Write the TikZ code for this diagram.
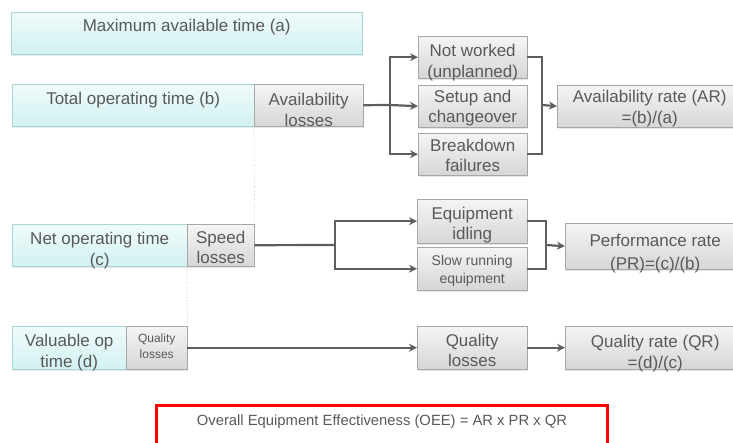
\documentclass[tikz,border=0pt]{standalone}
\usepackage{fontspec}
\setmainfont{Liberation Sans}
\usetikzlibrary{arrows.meta,shadows}

\definecolor{txtgray}{HTML}{595959}
\definecolor{linegray}{HTML}{5E5E5E}
\definecolor{cyantop}{HTML}{F0FBFB}
\definecolor{cyanbot}{HTML}{D2F1F1}
\definecolor{cyanedge}{HTML}{A8D7D7}
\definecolor{graytop}{HTML}{F5F5F5}
\definecolor{graybot}{HTML}{D6D6D6}
\definecolor{grayedge}{HTML}{A6A6A6}

\tikzset{
  basebox/.style={draw, anchor=north west, inner sep=0pt, align=center,
    minimum height=42pt, text=txtgray,
    font=\fontsize{17}{20.5}\selectfont,
    drop shadow={opacity=0.18, shadow xshift=1pt, shadow yshift=-1.5pt}},
  timebox/.style={basebox, draw=cyanedge, top color=cyantop, bottom color=cyanbot},
  lossbox/.style={basebox, draw=grayedge, top color=graytop, bottom color=graybot},
  % fixed text boxes, so that the lines sit where they should in each box
  oneline/.style={text height=12pt, text depth=#1},
  twoline/.style={text height=#1, text depth=0pt},
  smalltext/.style={font=\fontsize{14}{17.5}\selectfont},
  tinytext/.style={font=\fontsize{12}{15.5}\selectfont},
  link/.style={draw=linegray, line width=2.2pt},
  arr/.style={link, -{Stealth[length=8pt,width=8pt,inset=2.5pt]}},
  guide/.style={draw=grayedge, line width=0.6pt, dotted},
}

\begin{document}
\begin{tikzpicture}[x=1pt, y=-1pt]
\useasboundingbox (0,0) rectangle (733,442);

% time levels and their losses
\node[timebox, oneline=16pt, minimum width=351pt] (maxt) at (11,12) {Maximum available time (a)};
\node[timebox, oneline=14pt, minimum width=242pt] (tot) at (12,84) {Total operating time (b)};
\node[lossbox, twoline=42pt, minimum width=109pt] (avl) at (254,84) {Availability\\losses};
\node[timebox, twoline=40pt, minimum width=175pt] (net) at (12,224) {Net operating time\\(c)};
\node[lossbox, twoline=37pt, minimum width=67pt] (spd) at (187,224) {Speed\\losses};
\node[timebox, twoline=39pt, minimum width=114pt, minimum height=43pt] (val) at (12,326) {Valuable op\\time (d)};
\node[lossbox, tinytext, twoline=21pt, minimum width=61pt, minimum height=43pt] (qlt) at (126,326) {Quality\\losses};

\draw[guide] (avl.south west) -- (spd.north east);
\draw[guide] (spd.south west) -- (qlt.north east);

% availability losses
\node[lossbox, twoline=40pt, minimum width=109pt] (nw) at (418,36) {Not worked\\(unplanned)};
\node[lossbox, twoline=33pt, minimum width=109pt] (su) at (418,85) {Setup and\\changeover};
\node[lossbox, twoline=35pt, minimum width=109pt] (bd) at (418,133) {Breakdown\\failures};
\node[lossbox, twoline=34pt, minimum width=185pt] (ar) at (557,85) {Availability rate (AR)\\=(b)/(a)};

\coordinate (b1) at (390,105);
\coordinate (m1) at (542,105);
\draw[link] (avl.east) -- (b1);
\draw[arr] (b1) |- (nw.west);
\draw[arr] (b1) -- (su.west);
\draw[arr] (b1) |- (bd.west);
\draw[link] (nw.east) -| (m1);
\draw[link] (bd.east) -| (m1);
\draw[arr] (m1) -- (ar.west);

% speed losses
\node[lossbox, twoline=37pt, minimum width=110pt, minimum height=44pt] (ei) at (417,199) {Equipment\\idling};
\node[lossbox, smalltext, twoline=29pt, minimum width=110pt, minimum height=43pt] (sr) at (417,247) {Slow running\\equipment};
\node[lossbox, twoline=46pt, font=\fontsize{17}{23}\selectfont, minimum width=180pt, minimum height=43pt] (pr) at (565,223) {Performance rate\\(PR)=(c)/(b)};

\coordinate (b2) at (335,245);
\coordinate (m2) at (546,245);
\draw[link] (spd.east) -- (b2);
\draw[arr] (b2) |- (ei.west);
\draw[arr] (b2) |- (sr.west);
\draw[link] (ei.east) -| (m2);
\draw[link] (sr.east) -| (m2);
\draw[arr] (m2) -- (pr.west);

% quality losses
\node[lossbox, twoline=38pt, minimum width=110pt, minimum height=43pt] (ql) at (417,326) {Quality\\losses};
\node[lossbox, twoline=41pt, minimum width=180pt, minimum height=43pt] (qr) at (565,326) {Quality rate (QR)\\=(d)/(c)};
\draw[arr] (qlt.east) -- (ql.west);
\draw[arr] (ql.east) -- (qr.west);

% overall result
\node[draw=red, line width=3pt, anchor=north west, minimum width=451pt, minimum height=50pt,
      inner sep=0pt, text=txtgray, font=\fontsize{14.8}{18}\selectfont,
      text height=11pt, text depth=21pt]
      (oee) at (155,404) {Overall Equipment Effectiveness (OEE) = AR x PR x QR};
\end{tikzpicture}
\end{document}
